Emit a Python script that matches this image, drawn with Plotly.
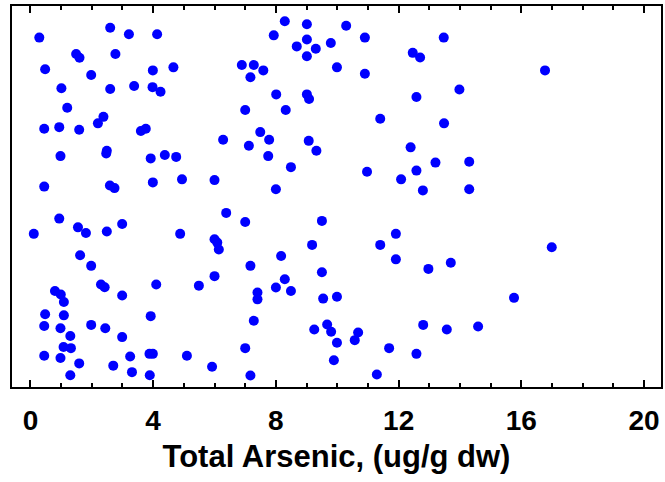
import plotly.graph_objects as go

# Total arsenic (ug/g dw) and vertical jitter position (0-1) for each sample
arsenic = [
    0.29, 2.60, 3.21, 4.13, 1.49, 1.60, 2.77, 0.48, 1.98, 3.99, 4.66, 1.01, 2.60, 3.38, 3.98, 4.24,
    1.20, 2.38, 2.20, 0.45, 0.94, 1.59, 3.60, 3.76, 6.28, 0.98, 2.49, 2.47, 3.92, 4.38, 4.75, 0.45,
    2.59, 2.74, 3.99, 4.94, 6.00,
    8.29, 9.01, 10.29, 7.93, 10.90, 13.47, 8.68, 9.01, 9.30, 9.79, 9.01, 12.46, 12.70, 6.89, 7.28,
    7.59, 7.17, 9.99, 10.90, 8.01, 9.01, 9.08, 12.58, 7.00, 8.32, 11.40, 13.48, 7.49, 7.12, 7.78,
    7.75, 9.07, 9.32, 12.39, 8.49, 10.97, 13.20, 12.58, 12.08, 8.00, 12.79,
    16.77, 13.98, 14.30, 14.30,
    0.94, 0.11, 1.55, 1.81, 2.49, 2.99, 4.88, 6.38, 6.00, 6.09, 6.14, 1.62, 1.98, 2.30, 2.42, 4.10,
    5.49, 6.00, 0.80, 0.99, 1.09, 2.99, 0.48, 1.09, 3.92, 0.45, 0.98, 1.98, 2.44, 1.30, 2.99, 1.08,
    1.32, 0.45, 0.98, 1.59, 3.25, 3.88, 3.99, 5.10, 2.70, 3.31, 3.89, 1.30, 5.92,
    7.00, 9.50, 9.18, 11.40, 11.91, 11.91, 12.97, 13.70, 7.17, 8.17, 9.50, 8.29, 8.00, 8.49, 7.40,
    7.40, 9.54, 9.99, 7.28, 9.25, 9.67, 9.80, 9.99, 10.68, 10.57, 12.80, 13.57, 7.00, 11.69, 12.58,
    9.89, 7.17, 11.29,
    16.99, 15.76, 14.59,
]
jitter = [
    0.917, 0.943, 0.926, 0.926, 0.874, 0.864, 0.874, 0.834, 0.819, 0.831, 0.839, 0.784, 0.782, 0.790, 0.787, 0.775,
    0.733, 0.709, 0.692, 0.678, 0.682, 0.675, 0.672, 0.678, 0.649, 0.606, 0.620, 0.613, 0.600, 0.609, 0.604, 0.526,
    0.529, 0.522, 0.537, 0.545, 0.543,
    0.960, 0.952, 0.948, 0.923, 0.917, 0.917, 0.894, 0.912, 0.888, 0.903, 0.868, 0.877, 0.865, 0.845, 0.845,
    0.831, 0.813, 0.839, 0.822, 0.768, 0.768, 0.756, 0.761, 0.727, 0.727, 0.704, 0.692, 0.669, 0.633, 0.649,
    0.606, 0.646, 0.620, 0.629, 0.577, 0.565, 0.589, 0.568, 0.545, 0.519, 0.516,
    0.831, 0.781, 0.591, 0.519,
    0.442, 0.402, 0.419, 0.404, 0.408, 0.428, 0.402, 0.457, 0.388, 0.379, 0.361, 0.346, 0.318, 0.269, 0.262, 0.269,
    0.266, 0.291, 0.252, 0.243, 0.223, 0.240, 0.191, 0.188, 0.186, 0.160, 0.154, 0.163, 0.154, 0.134, 0.131, 0.105,
    0.102, 0.082, 0.076, 0.062, 0.080, 0.087, 0.087, 0.082, 0.056, 0.039, 0.031, 0.031, 0.053,
    0.433, 0.436, 0.373, 0.373, 0.402, 0.335, 0.310, 0.326, 0.318, 0.344, 0.301, 0.283, 0.261, 0.252, 0.248,
    0.230, 0.232, 0.237, 0.174, 0.151, 0.164, 0.145, 0.116, 0.143, 0.123, 0.163, 0.151, 0.102, 0.102, 0.087,
    0.070, 0.030, 0.033,
    0.367, 0.234, 0.159,
]
tick_values = [0, 4, 8, 12, 16, 20]
tick_labels = ["0", "4", "8", "12", "16", "20"]
x_title = "Total Arsenic, (ug/g dw)"

fig = go.Figure(
    go.Scatter(
        x=arsenic,
        y=jitter,
        mode="markers",
        marker=dict(color="#0000FF", size=10, line=dict(width=0)),
        hoverinfo="x",
    )
)

font_family = "Liberation Sans, Arial, sans-serif"

fig.update_layout(
    width=665,
    height=482,
    margin=dict(l=12, r=4, t=6, b=95),
    paper_bgcolor="white",
    plot_bgcolor="white",
    showlegend=False,
    font=dict(family=font_family, color="black"),
    xaxis=dict(
        range=[-0.6, 20.55],
        automargin=False,
        tickvals=tick_values,
        ticktext=tick_labels,
        ticks="inside",
        ticklen=7,
        tickwidth=2,
        tickcolor="black",
        showline=True,
        linecolor="black",
        linewidth=2,
        mirror="allticks",
        showgrid=False,
        zeroline=False,
        tickfont=dict(size=28, family=font_family, color="black", weight="bold"),
        ticklabelstandoff=7,
        minor=dict(dtick=1, tick0=0, ticks="inside", ticklen=4, tickwidth=1.5, tickcolor="black", showgrid=False),
        title=dict(text=x_title, font=dict(size=31, family=font_family, color="black", weight="bold"), standoff=11),
    ),
    yaxis=dict(
        range=[0, 1],
        automargin=False,
        showticklabels=False,
        ticks="",
        showline=True,
        linecolor="black",
        linewidth=2,
        mirror=True,
        showgrid=False,
        zeroline=False,
    ),
)

fig.write_html(
    "out.html",
    config={"displayModeBar": False},
    post_script="document.body.style.margin='0';",
)
